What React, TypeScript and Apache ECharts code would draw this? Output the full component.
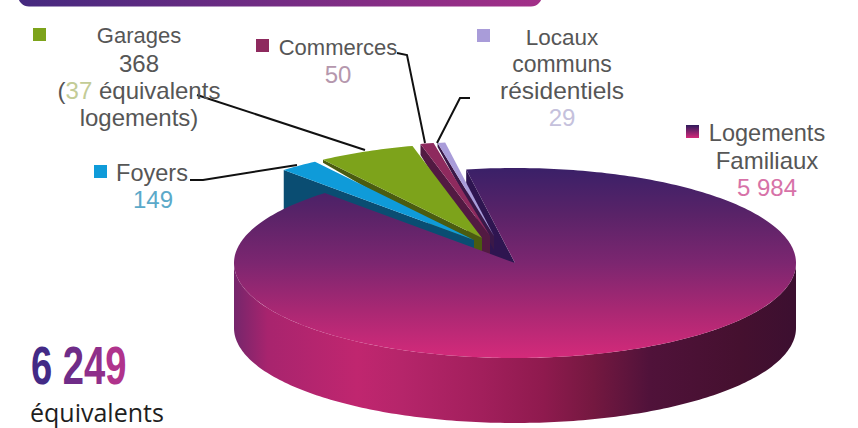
import React, { useEffect, useRef } from "react";
import * as echarts from "echarts";

// Parc de logements : parts par type de local, camembert en relief.
const categories = ["Logements Familiaux", "Foyers", "Garages", "Commerces", "Locaux communs résidentiels"];
const values = [5984, 149, 368, 50, 29];
const garageEquivalents = "37";
const totalHead = "6";
const totalDigits = ["2", "4", "9"];
const totalCaption = "équivalents";
const valueLabels = ["5 984", "149", "368", "50", "29"];

// Projection of the disc
const CX = 515;
const CY = 263;
const RX = 281;
const RY = 95;
const RIM_DEPTH = 65;
const START_DEG = -10;

// Per-slice drawing settings, in the order of `categories`
const explode = [[0, 0], [-41, -23], [-33, -25], [-25, -27], [-21, -27]];
const wallDepthOuter = [20, 40, 3, 11, 4];
const wallDepthInner = [65, 12, 16, 22, 14];
const wallShoulder = [[0, 65], [0, 12], [0.02, 16], [0.1, 30], [0, 14]];
const layerOrder = [0, 13, 12, 11, 10];
const topColors = ["", "#0f9bd9", "#7da31b", "#8e2a5e", "#a99cd9"];
const wallColors = ["#2e1550", "#0a4d72", "#4b5c10", "#521a42", "#3a1848"];
const GREY = "#565656";
const FONT = "Liberation Sans";

const rad = (d: number) => (d * Math.PI) / 180;
const onRim = (deg: number, ox = 0, oy = 0): number[] => [
  CX + ox + RX * Math.sin(rad(deg)),
  CY + oy - RY * Math.cos(rad(deg)),
];

const sweepPoints = (from: number, to: number, ox = 0, oy = 0) => {
  const pts: number[][] = [];
  const steps = Math.max(2, Math.ceil(Math.abs(to - from)));
  for (let i = 0; i <= steps; i++) pts.push(onRim(from + ((to - from) * i) / steps, ox, oy));
  return pts;
};

const total = values.reduce((a, b) => a + b, 0);
const sliceStart = (index: number) => {
  let sum = 0;
  for (let i = 0; i < index; i++) sum += values[i];
  return START_DEG + (sum / total) * 360;
};

const mainTopFill = new echarts.graphic.LinearGradient(0, 0, 0, 1, [
  { offset: 0, color: "#3a2068" },
  { offset: 0.25, color: "#5a2368" },
  { offset: 0.5, color: "#7c2670" },
  { offset: 0.75, color: "#a92873" },
  { offset: 1, color: "#d42a7a" },
]);
const mainSideFill = new echarts.graphic.LinearGradient(0, 0, 1, 0, [
  { offset: 0, color: "#75266c" },
  { offset: 0.02, color: "#86256c" },
  { offset: 0.06, color: "#a8246e" },
  { offset: 0.22, color: "#c0266f" },
  { offset: 0.3, color: "#b5256a" },
  { offset: 0.44, color: "#a21f5c" },
  { offset: 0.55, color: "#8f1a4e" },
  { offset: 0.64, color: "#741840" },
  { offset: 0.74, color: "#50123a" },
  { offset: 0.9, color: "#45102f" },
  { offset: 1, color: "#3c0f30" },
]);

const renderSlice = (params: any, api: any) => {
  const i = params.dataIndex;
  const value = api.value(0);
  const from = sliceStart(i);
  const to = from + (value / total) * 360;
  const [ox, oy] = explode[i];
  const tip = [CX + ox, CY + oy];
  const outer = onRim(from, ox, oy);
  const [frac, shoulderDepth] = wallShoulder[i];
  const shoulder = [
    tip[0] + (outer[0] - tip[0]) * frac,
    tip[1] + (outer[1] - tip[1]) * frac + shoulderDepth,
  ];
  const children: any[] = [
    {
      type: "polygon",
      z2: layerOrder[i],
      shape: {
        points: [
          tip,
          outer,
          [outer[0], outer[1] + wallDepthOuter[i]],
          shoulder,
          [tip[0], tip[1] + wallDepthInner[i]],
        ],
      },
      style: { fill: wallColors[i] },
    },
  ];
  if (i === 0) {
    const front = sweepPoints(90, 270);
    const lower = sweepPoints(270, 90, 0, RIM_DEPTH);
    children.push({
      type: "polygon",
      z2: 20,
      shape: { points: [...front, ...lower] },
      style: { fill: mainSideFill },
    });
    children.push({
      type: "polygon",
      z2: 21,
      shape: { points: [tip, ...sweepPoints(from, to)] },
      style: { fill: mainTopFill },
    });
  } else {
    children.push({
      type: "polygon",
      z2: layerOrder[i] + 0.5,
      shape: { points: [tip, ...sweepPoints(from, to, ox, oy)] },
      style: { fill: topColors[i] },
    });
  }
  return { type: "group", children };
};

const label = (text: string, x: number, y: number, size = 22, fill = GREY) => ({
  type: "text",
  x,
  y,
  z: 10,
  style: { text, fill, align: "center", verticalAlign: "middle", font: `${size}px "${FONT}"` },
});

const swatch = (x: number, y: number, fill: any) => ({
  type: "rect",
  z: 10,
  shape: { x, y, width: 13, height: 13 },
  style: { fill },
});

const leader = (points: number[][]) => ({
  type: "polyline",
  z: 10,
  shape: { points },
  style: { stroke: "#111", lineWidth: 2, fill: "none" },
});

const totalFont = `bold 53px "${FONT}"`;

const graphics: any[] = [
  {
    type: "rect",
    shape: { x: 18, y: -20, width: 524, height: 26.5, r: 11 },
    style: {
      fill: new echarts.graphic.LinearGradient(0, 0, 1, 0, [
        { offset: 0, color: "#45297f" },
        { offset: 1, color: "#a32f88" },
      ]),
    },
  },
  swatch(33, 28, "#7da31b"),
  swatch(256, 39, "#8e2a5e"),
  swatch(94, 165, "#0f9bd9"),
  swatch(477, 29, "#a99cd9"),
  swatch(686, 125, new echarts.graphic.LinearGradient(0, 0, 0, 1, [
    { offset: 0, color: "#2f1b5c" },
    { offset: 1, color: "#d42a7a" },
  ])),
  leader([[197, 95], [365, 150]]),
  leader([[190, 180], [203, 180], [297, 165]]),
  leader([[397, 53], [407, 55], [425, 143]]),
  leader([[470, 98], [460, 98], [437, 143]]),
  label("Garages", 139, 35),
  label(valueLabels[2], 139, 63, 24),
  {
    type: "text",
    x: 139,
    y: 90,
    z: 10,
    style: {
      text: `{p|(}{n|${garageEquivalents}}{p| équivalents}`,
      align: "center",
      verticalAlign: "middle",
      rich: {
        p: { fill: GREY, font: `24px "${FONT}"` },
        n: { fill: "#c3cc96", font: `24px "${FONT}"` },
      },
    },
  },
  label("logements)", 139, 117, 24),
  label("Commerces", 338, 47),
  label(valueLabels[3], 338, 74, 24, "#b597ad"),
  label("Foyers", 152, 173, 23.5),
  label(valueLabels[1], 153, 199, 24, "#5ba9c9"),
  label("Locaux", 562, 37, 22.5),
  label("communs", 562, 64, 23),
  label("résidentiels", 562, 90, 24.5),
  label(valueLabels[4], 562, 117, 24, "#c5c1dc"),
  label("Logements", 767, 133, 23.5),
  label("Familiaux", 767, 160, 24),
  label(valueLabels[0], 767, 187, 24, "#d772a8"),
  {
    // Headline total, each digit stepping along the purple-to-magenta ramp
    type: "text",
    x: 31,
    y: 366,
    z: 10,
    scaleX: 0.72,
    style: {
      text: `{a|${totalHead}}{a| }{b|${totalDigits[0]}}{c|${totalDigits[1]}}{d|${totalDigits[2]}}`,
      align: "left",
      verticalAlign: "middle",
      rich: {
        a: { fill: "#432a86", font: totalFont },
        b: { fill: "#6f2c88", font: totalFont },
        c: { fill: "#8f2f8a", font: totalFont },
        d: { fill: "#b0338c", font: totalFont },
      },
    },
  },
  {
    type: "text",
    x: 30,
    y: 412,
    z: 10,
    style: {
      text: totalCaption,
      align: "left",
      verticalAlign: "middle",
      font: '25px "Open Sans"',
      fill: "#1e1e1e",
    },
  },
];

export default function App() {
  const ref = useRef<HTMLDivElement>(null);
  useEffect(() => {
    const chart = echarts.init(ref.current!, null, { renderer: "svg" });
    chart.setOption({
      animation: false,
      backgroundColor: "#ffffff",
      graphic: graphics,
      series: [
        {
          type: "custom",
          coordinateSystem: "none",
          renderItem: renderSlice,
          data: values.map((v, i) => ({ name: categories[i], value: [v] })),
        },
      ],
    });
    return () => chart.dispose();
  }, []);
  return <div ref={ref} style={{ position: "fixed", left: 0, top: 0, width: 858, height: 428 }} />;
}
